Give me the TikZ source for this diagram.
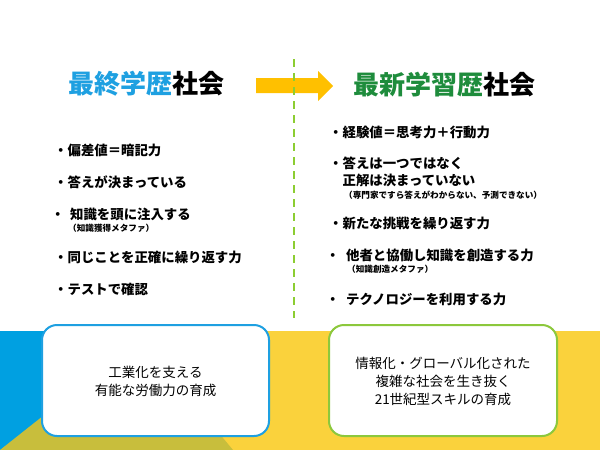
\documentclass[tikz,border=0pt]{standalone}
\usepackage{fontspec}
\setmainfont{Noto Sans CJK JP}
\definecolor{titleblue}{RGB}{30,160,225}
\definecolor{titlegreen}{RGB}{30,140,60}
\definecolor{arrowyellow}{RGB}{255,192,0}
\definecolor{dashgreen}{RGB}{140,205,50}
\definecolor{bandblue}{RGB}{0,160,225}
\definecolor{bandyellow}{RGB}{250,210,60}
\definecolor{bandolive}{RGB}{200,190,60}
\definecolor{boxgreen}{RGB}{140,200,60}
\tikzset{
  titletext/.style={anchor=west, inner sep=0pt, font=\fontsize{26}{30}\selectfont\bfseries},
  itemtext/.style={anchor=west, inner sep=0pt, align=left, font=\fontsize{13.4}{17}\selectfont\bfseries},
  smalltext/.style={anchor=west, inner sep=0pt, font=\fontsize{8.6}{10}\selectfont\bfseries},
  goalbox/.style={line width=2pt, fill=white, rounded corners=15pt},
  boxtext/.style={align=center, inner sep=0pt, font=\fontsize{13.5}{18}\selectfont},
}
\begin{document}
\begin{tikzpicture}[x=1pt,y=-1pt]
\useasboundingbox (0,0) rectangle (600,450);
\fill[white] (0,0) rectangle (600,450);
% bottom band
\fill[bandblue] (0,331) rectangle (150,450);
\fill[bandyellow] (150,331) rectangle (600,450);
\fill[bandolive] (0,450) -- (120,355) -- (154,355) -- (233,450) -- cycle;
% arrow
\fill[arrowyellow] (256,78) -- (318,78) -- (318,71) -- (333,86) -- (318,101) -- (318,93) -- (256,93) -- cycle;
% divider
\coordinate (divtop) at (294,59);
\coordinate (divbot) at (294,318);
\draw[dashgreen, line width=2pt, dash pattern=on 8pt off 6pt] (divtop) -- (divbot);
% titles
\node[titletext] (tleft) at (68,84) {\textcolor{titleblue}{最終学歴}社会};
\node[titletext] (tright) at (353,85) {\textcolor{titlegreen}{最新学習歴}社会};
% left items
\node[itemtext] (l1) at (54,150) {・偏差値＝暗記力};
\node[itemtext] (l2) at (54,182) {・答えが決まっている};
\node[itemtext] (l3) at (51,214) {・\hspace{5.6pt}知識を頭に注入する};
\node[smalltext] (l3s) at (68,228) {（知識獲得メタファ）};
\node[itemtext] (l4) at (54,257) {・同じことを正確に繰り返す力};
\node[itemtext] (l5) at (54,289) {・テストで確認};
% right items
\node[itemtext] (r1) at (329,132) {・経験値＝思考力＋行動力};
\node[itemtext] (r2) at (329,171.5) {・答えは一つではなく\\\hspace{13.4pt}正解は決まっていない};
\node[smalltext] (r2s) at (344,195) {（専門家ですら答えがわからない、予測できない）};
\node[itemtext] (r3) at (329,223) {・新たな挑戦を繰り返す力};
\node[itemtext] (r4) at (326,255) {・\hspace{6.6pt}他者と協働し知識を創造する力};
\node[smalltext] (r4s) at (347,269) {（知識創造メタファ）};
\node[itemtext] (r5) at (326,299) {・\hspace{6.6pt}テクノロジーを利用する力};
% goal boxes
\draw[goalbox, draw=titleblue] (42,325) rectangle (269,436);
\draw[goalbox, draw=boxgreen] (329,325) rectangle (557,436);
\node[boxtext] (bl) at (155.5,381) {工業化を支える\\有能な労働力の育成};
\node[boxtext] (br) at (443,381) {情報化・グローバル化された\\複雑な社会を生き抜く\\21世紀型スキルの育成};
\end{tikzpicture}
\end{document}
